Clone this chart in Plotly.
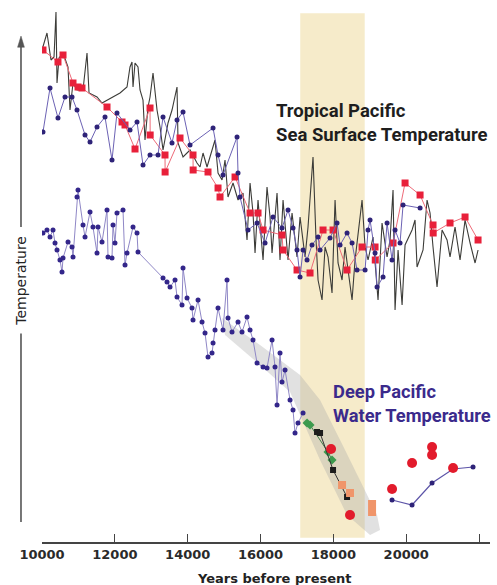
import plotly.graph_objects as go

# ---------------- data (years before present, relative temperature) ----------------
sst_black_years = [10000, 10137, 10247, 10330, 10384, 10412, 10467, 10577, 10714, 10769, 10851, 10961,
                   11126, 11236, 11291, 11510, 11648, 11785, 12142, 12334, 12416, 12471, 12499, 12554,
                   12636, 12691, 12773, 12828, 12911, 12966, 13048, 13158, 13240, 13323, 13460, 13570,
                   13707, 13735, 13872, 14064, 14256, 14339, 14421, 14531, 14750, 14833, 14943, 15025,
                   15107, 15245, 15382, 15519, 15629, 15712, 15794, 15849, 15931, 16069, 16178, 16261,
                   16316, 16453, 16535, 16618, 16755, 16865, 17002, 17085, 17222, 17304, 17441, 17524,
                   17579, 17689, 17771, 17853, 17963, 18046, 18128, 18238, 18320, 18403, 18513, 18595,
                   18787, 18870, 18952, 19089, 19226, 19336, 19474, 19556, 19638, 19693, 19776, 19886,
                   19968, 20160, 20242, 20297, 20462, 20572, 20654, 20736, 20846, 20984, 21121, 21203,
                   21340, 21478, 21615, 21753, 21890, 21972]
sst_black_temp = [49.2, 50.9, 48.2, 48.5, 53.0, 45.9, 48.4, 48.9, 47.5, 43.2, 45.9, 45.2,
                  45.2, 48.9, 44.9, 44.5, 43.9, 44.2, 44.9, 45.5, 47.5, 48.0, 45.5, 47.9,
                  47.5, 45.2, 44.2, 40.2, 43.5, 44.5, 46.9, 43.2, 41.5, 39.2, 41.9, 43.2,
                  45.5, 39.9, 38.5, 39.2, 37.9, 37.5, 38.9, 37.5, 40.2, 36.9, 36.2, 38.2,
                  34.5, 35.9, 34.2, 34.9, 30.2, 35.9, 32.9, 28.9, 34.2, 28.2, 35.5, 32.5,
                  28.9, 34.9, 28.2, 34.2, 28.2, 32.9, 28.5, 32.5, 28.5, 31.5, 38.5, 30.2,
                  26.2, 24.2, 29.5, 28.5, 24.9, 34.2, 27.9, 26.2, 29.5, 27.2, 24.2, 28.2,
                  34.2, 29.5, 28.2, 30.5, 24.2, 31.9, 28.5, 30.2, 35.2, 23.2, 29.2, 23.7,
                  29.7, 31.2, 32.2, 27.5, 29.2, 34.2, 32.9, 29.5, 25.5, 31.2, 30.2, 28.5,
                  31.5, 28.2, 32.2, 29.9, 27.9, 29.2]

sst_red_years = [10027, 10439, 10577, 10851, 10989, 11098, 11785, 12197, 12279, 12554, 12966, 12970,
                 13377, 13380, 13789, 14146, 14150, 14558, 14833, 14888, 15300, 15712, 15931, 16069,
                 16590, 16618, 17002, 17359, 17716, 17991, 18375, 18787, 19144, 19150, 19638, 19968,
                 20380, 20736, 20740, 21203, 21615, 21972]
sst_red_temp = [49.2, 48.0, 48.7, 45.9, 45.5, 45.4, 43.5, 42.0, 41.7, 39.3, 43.4, 40.7,
                38.7, 37.0, 40.4, 38.7, 37.2, 37.0, 35.4, 34.5, 36.5, 32.9, 32.9, 31.2,
                30.7, 29.2, 27.2, 26.9, 31.2, 31.2, 27.2, 29.5, 29.5, 28.2, 29.9, 35.9,
                34.7, 31.7, 30.9, 31.9, 32.5, 30.2]

sst_blue_years = [10027, 10220, 10439, 10632, 10824, 10961, 11181, 11318, 11510, 11730, 11922, 12059,
                  12416, 12609, 12773, 12966, 13185, 13323, 13570, 13707, 13872, 14064, 14696, 14833,
                  14970, 15355, 15382, 15437, 15657, 15904, 16124, 16343, 16590, 16755, 16892, 17002,
                  17085, 17167, 17277, 17414, 17579, 17634, 17908, 18100, 18183, 18375, 18513, 18650,
                  18870, 18952, 19007, 19144, 19199, 19364, 19474, 19611, 19693, 19830, 19913, 20380]
sst_blue_temp = [41.0, 45.4, 42.4, 44.5, 44.5, 43.2, 40.7, 40.0, 41.5, 42.5, 38.2, 42.9,
                 41.2, 42.0, 37.7, 38.7, 38.7, 42.5, 39.9, 42.2, 43.0, 39.7, 41.4, 38.7,
                 36.7, 40.5, 36.9, 34.5, 31.2, 31.9, 29.9, 32.5, 31.4, 33.2, 31.4, 29.2,
                 26.5, 29.2, 28.2, 29.7, 30.5, 29.2, 30.4, 31.9, 29.7, 30.9, 29.9, 27.2,
                 27.2, 31.2, 32.2, 28.9, 25.5, 26.5, 31.9, 28.2, 31.2, 29.9, 33.7, 33.4]

deep_years = [10027, 10137, 10220, 10302, 10357, 10412, 10494, 10549, 10577, 10714, 10824, 10851,
              10961, 10989, 11126, 11181, 11318, 11400, 11510, 11538, 11648, 11785, 11812, 11922,
              11950, 12004, 12059, 12224, 12279, 12334, 12499, 12609, 12636, 13323, 13432, 13515,
              13652, 13707, 13844, 13872, 13982, 14119, 14146, 14284, 14394, 14476, 14558, 14668,
              14696, 14750, 14833, 14970, 15080, 15107, 15217, 15382, 15492, 15629, 15712, 15794,
              15904, 16069, 16178, 16316, 16398, 16453, 16535, 16590, 16673, 16810, 16892, 16947,
              17029, 17167]
deep_temp = [30.9, 31.2, 30.5, 31.2, 29.9, 29.2, 28.2, 27.0, 28.4, 30.0, 29.5, 28.5,
             34.5, 35.2, 31.7, 30.5, 33.0, 31.5, 28.9, 31.5, 30.0, 33.2, 28.5, 28.4,
             31.7, 29.9, 32.9, 33.2, 27.7, 28.9, 31.5, 30.9, 29.0, 26.4, 26.0, 25.5,
             26.2, 24.5, 23.7, 27.4, 24.4, 23.4, 22.2, 24.2, 22.0, 20.9, 18.5, 18.9,
             19.9, 21.2, 23.4, 21.2, 26.2, 22.4, 21.0, 22.0, 21.0, 22.5, 21.2, 20.2,
             17.9, 17.5, 17.4, 20.2, 17.5, 13.7, 18.9, 16.0, 17.2, 14.2, 13.2, 10.9,
             11.9, 12.9]

deep_late_years = [19611, 20160, 20709, 21286, 21835]
deep_late_temp = [4.2, 3.7, 5.9, 7.3, 7.5]

green_years = [17277, 17359, 17853, 17963]
green_temp = [11.9, 11.7, 9.0, 8.2]

black_sq_years = [17551, 17634, 17991, 18375]
black_sq_temp = [11.0, 10.9, 7.2, 4.5]

orange_years = [18238, 18457, 19062, 19062]
orange_temp = [5.7, 4.9, 3.0, 3.8]

red_dot_years = [17936, 18457, 19611, 20160, 20709, 20709, 21286]
red_dot_temp = [9.3, 2.7, 5.3, 7.9, 9.5, 8.7, 7.4]

# envelope around the deep-water trend (upper edge then lower edge)
env_upper_years = [14943, 15986, 17085, 17634, 18320, 19199, 19281]
env_upper_temp = [22.4, 19.7, 16.7, 14.2, 9.2, 2.7, 1.2]
env_lower_years = [19007, 18375, 17634, 16810, 15986, 15025]
env_lower_temp = [0.7, 2.7, 8.2, 15.0, 17.7, 20.7]

lgm_band = [17090, 18860]
x_ticks = [10000, 12000, 14000, 16000, 18000, 20000, 22000]

# ---------------- figure ----------------
fig = go.Figure()

fig.add_trace(go.Scatter(
    x=env_upper_years + env_lower_years + [env_upper_years[0]],
    y=env_upper_temp + env_lower_temp + [env_upper_temp[0]],
    mode="lines", fill="toself", fillcolor="rgba(170,170,170,0.35)",
    line=dict(width=0), hoverinfo="skip", showlegend=False))

fig.add_trace(go.Scatter(x=sst_black_years, y=sst_black_temp, mode="lines",
                         line=dict(color="#3c3c38", width=1.1), showlegend=False))

fig.add_trace(go.Scatter(x=sst_red_years, y=sst_red_temp, mode="lines+markers",
                         line=dict(color="#ee6a78", width=1),
                         marker=dict(symbol="square", size=7, color="#e8203a"),
                         showlegend=False))

fig.add_trace(go.Scatter(x=sst_blue_years, y=sst_blue_temp, mode="lines+markers",
                         line=dict(color="#6c62b4", width=1),
                         marker=dict(symbol="circle", size=5, color="#2e2378"),
                         showlegend=False))

fig.add_trace(go.Scatter(x=deep_years, y=deep_temp, mode="lines+markers",
                         line=dict(color="#8f87c6", width=1),
                         marker=dict(symbol="circle", size=5, color="#33268a"),
                         showlegend=False))

fig.add_trace(go.Scatter(x=deep_late_years, y=deep_late_temp, mode="lines+markers",
                         line=dict(color="#5c54a8", width=1.2),
                         marker=dict(symbol="circle", size=5, color="#2e2378"),
                         showlegend=False))

fig.add_trace(go.Scatter(x=green_years, y=green_temp, mode="lines+markers",
                         line=dict(color="#3f7a4a", width=1),
                         marker=dict(symbol="diamond", size=7, color="#3d9a4e"),
                         showlegend=False))

fig.add_trace(go.Scatter(x=black_sq_years, y=black_sq_temp, mode="lines+markers",
                         line=dict(color="#333333", width=1),
                         marker=dict(symbol="square", size=6, color="#1c1c1c"),
                         showlegend=False))

fig.add_trace(go.Scatter(x=orange_years, y=orange_temp, mode="markers",
                         marker=dict(symbol="square", size=8, color="#f0956a"),
                         showlegend=False))

fig.add_trace(go.Scatter(x=red_dot_years, y=red_dot_temp, mode="markers",
                         marker=dict(symbol="circle", size=10, color="#e21b2c"),
                         showlegend=False))

# LGM shaded band
fig.add_shape(type="rect", xref="x", yref="paper", x0=lgm_band[0], x1=lgm_band[1],
              y0=0.008, y1=0.994, fillcolor="#f6ebca", line=dict(width=0), layer="below")

# vertical temperature arrow axis (decoration)
axc = "#555555"
xa = -0.0469
fig.add_shape(type="line", xref="paper", yref="paper", x0=xa, x1=xa, y0=0.936, y1=0.592,
              line=dict(color=axc, width=1.6))
fig.add_shape(type="line", xref="paper", yref="paper", x0=xa, x1=xa, y0=0.392, y1=0.0376,
              line=dict(color=axc, width=1.6))
fig.add_shape(type="path", xref="paper", yref="paper",
              path="M -0.0469 0.951 L -0.0545 0.930 L -0.0393 0.930 Z",
              fillcolor=axc, line=dict(color=axc, width=0.5))

fig.add_annotation(text="Temperature", xref="paper", yref="paper", x=-0.047, y=0.491,
                   textangle=-90, showarrow=False, xanchor="center", yanchor="middle",
                   font=dict(family="DejaVu Sans", size=14, color="#222222"))

title_font = dict(family="Roboto", size=18.5, color="#1e1e1e", weight="bold")
fig.add_annotation(text="Tropical Pacific<br>Sea Surface Temperature", xref="paper", yref="paper",
                   x=0.517, y=0.787, xanchor="left", yanchor="middle", align="left",
                   showarrow=False, font=title_font)

deep_font = dict(family="Roboto", size=18.3, color="#3b2a8c", weight="bold")
fig.add_annotation(text="Deep Pacific<br>Water Temperature", xref="paper", yref="paper",
                   x=0.646, y=0.261, xanchor="left", yanchor="middle", align="left",
                   showarrow=False, font=deep_font)

fig.add_annotation(text="Years before present", xref="paper", yref="paper",
                   x=0.52, y=-0.068, xanchor="center", yanchor="middle", showarrow=False,
                   font=dict(family="DejaVu Sans", size=13, color="#222222", weight="bold"))

fig.update_layout(
    width=497, height=585,
    margin=dict(l=42, r=7, t=10, b=43),
    paper_bgcolor="white", plot_bgcolor="white",
    xaxis=dict(range=[10000, 22300], tickvals=x_ticks, ticktext=[str(v) for v in x_ticks],
               showgrid=False, zeroline=False, showline=True, linecolor="#444444", linewidth=1.5,
               ticks="inside", ticklen=8, tickcolor="#444444", tickwidth=1.2,
               tickfont=dict(family="DejaVu Sans", size=13, color="#2a2a2a", weight="bold")),
    yaxis=dict(range=[0, 53.2], showgrid=False, zeroline=False, showline=False,
               showticklabels=False, ticks=""),
    showlegend=False,
)

fig.write_html("out.html", config={"displayModeBar": False},
               post_script="document.body.style.margin='0px';")
